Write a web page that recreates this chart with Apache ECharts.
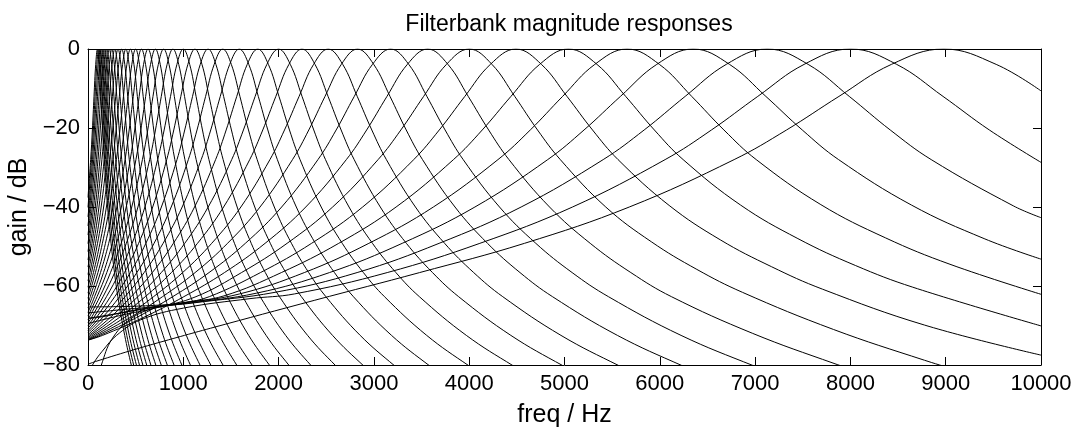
<!DOCTYPE html>
<html>
<head>
<meta charset="utf-8">
<title>Filterbank magnitude responses</title>
<script src="https://cdn.jsdelivr.net/npm/echarts@6/dist/echarts.min.js"></script>
<style>
  html, body { margin: 0; padding: 0; background: #fff; }
  #chart { width: 1080px; height: 429px; }
</style>
</head>
<body>
<div id="chart"></div>
<script>
// Magnitude response of each band of a sixth-octave gammatone filterbank,
// as [frequency in Hz, gain in dB] pairs, lowest band first.
const band01 = [[0,-37.6],[28,-28],[46,-20.5],[63,-12],[81,-3.9],[99.2,0],[117,-3.9],[135,-12],[153,-20.5],[171,-28],[206,-40],[242,-49.2],[278,-56.6],[313,-62.7],[385,-72.5],[456,-80.2],[492,-83.5]];
const band02 = [[0,-40.1],[37,-28],[56,-20.5],[74,-12],[93,-3.9],[111.4,0],[130,-3.9],[148,-12],[167,-20.5],[185,-28],[222,-40],[259,-49.2],[296,-56.6],[333,-62.7],[407,-72.5],[481,-80.2],[518,-83.5]];
const band03 = [[0,-42.5],[10,-40],[48,-28],[67,-20.5],[87,-12],[106,-3.9],[125,0],[144,-3.9],[164,-12],[183,-20.5],[202,-28],[241,-40],[279,-49.2],[318,-56.6],[356,-62.7],[433,-72.5],[510,-80.2],[549,-83.5]];
const band04 = [[0,-44.8],[20,-40],[60,-28],[80,-20.5],[100,-12],[120,-3.9],[140.3,0],[160,-3.9],[181,-12],[201,-20.5],[221,-28],[261,-40],[301,-49.2],[341,-56.6],[382,-62.7],[462,-72.5],[542,-80.2],[583,-83.5]];
const band05 = [[0,-47.1],[31.5,-40],[73.5,-28],[94.5,-20.5],[115.5,-12],[136.5,-3.9],[157.5,0],[178.5,-3.9],[199.5,-12],[220.5,-20.5],[241.5,-28],[283.5,-40],[325.5,-49.2],[367.5,-56.6],[409.5,-62.7],[493.5,-72.5],[577.5,-80.2],[619.5,-83.5]];
const band06 = [[0,-49.3],[45,-40],[89,-28],[111,-20.5],[133,-12],[155,-3.9],[177,0],[199,-3.9],[221,-12],[243,-20.5],[265,-28],[309,-40],[353,-49.2],[398,-56.6],[442,-62.7],[530,-72.5],[618,-80.2],[662,-83.5]];
const band07 = [[0,-51.3],[12,-49.2],[59,-40],[105,-28],[128,-20.5],[152,-12],[175,-3.9],[198,0],[221,-3.9],[244,-12],[268,-20.5],[291,-28],[337,-40],[384,-49.2],[430,-56.6],[476,-62.7],[569,-72.5],[662,-80.2],[708,-83.5]];
const band08 = [[0,-53.4],[27,-49.2],[76,-40],[125,-28],[149,-20.5],[174,-12],[198,-3.9],[223,0],[248,-3.9],[272,-12],[297,-20.5],[321,-28],[370,-40],[419,-49.2],[469,-56.6],[518,-62.7],[616,-72.5],[714,-80.2],[763,-83.5]];
const band09 = [[0,-55.2],[42,-49.2],[94,-40],[146,-28],[172,-20.5],[198,-12],[224,-3.9],[250,0],[276,-3.9],[302,-12],[328,-20.5],[354,-28],[406,-40],[458,-49.2],[511,-56.6],[563,-62.7],[667,-72.5],[771,-80.2],[823,-83.5]];
const band10 = [[0,-57.1],[59,-49.2],[115,-40],[170,-28],[198,-20.5],[226,-12],[253,-3.9],[281,0],[309,-3.9],[336,-12],[364,-20.5],[392,-28],[447,-40],[503,-49.2],[558,-56.6],[613,-62.7],[724,-72.5],[835,-80.2],[890,-83.5]];
const band11 = [[0,-58.7],[20,-56.6],[79,-49.2],[138,-40],[197,-28],[226,-20.5],[256,-12],[285,-3.9],[315,0],[345,-3.9],[374,-12],[404,-20.5],[433,-28],[492,-40],[551,-49.2],[611,-56.6],[670,-62.7],[788,-72.5],[906,-80.2],[965,-83.5]];
const band12 = [[0,-60.3],[37,-56.6],[100,-49.2],[164,-40],[227,-28],[259,-20.5],[291,-12],[322,-3.9],[354,0],[386,-3.9],[417,-12],[449,-20.5],[481,-28],[544,-40],[608,-49.2],[671,-56.6],[734,-62.7],[861,-72.5],[988,-80.2],[1051,-83.5]];
const band13 = [[0,-61.8],[57,-56.6],[125,-49.2],[193,-40],[261,-28],[295,-20.5],[329,-12],[363,-3.9],[397,0],[431,-3.9],[465,-12],[499,-20.5],[533,-28],[601,-40],[669,-49.2],[738,-56.6],[806,-62.7],[942,-72.5],[1078,-80.2],[1146,-83.5]];
const band14 = [[0,-63.1],[78,-56.6],[151,-49.2],[225,-40],[298,-28],[335,-20.5],[372,-12],[408,-3.9],[445,0],[482,-3.9],[518,-12],[555,-20.5],[592,-28],[665,-40],[739,-49.2],[812,-56.6],[885,-62.7],[1032,-72.5],[1179,-80.2],[1252,-83.5]];
const band15 = [[0,-64.4],[24,-62.7],[104,-56.6],[183,-49.2],[262,-40],[341,-28],[381,-20.5],[421,-12],[460,-3.9],[500,0],[540,-3.9],[579,-12],[619,-20.5],[659,-28],[738,-40],[817,-49.2],[897,-56.6],[976,-62.7],[1134,-72.5],[1293,-80.2],[1372,-83.5]];
const band16 = [[0,-65.5],[45,-62.7],[131,-56.6],[217,-49.2],[303,-40],[389,-28],[432,-20.5],[475,-12],[518,-3.9],[561,0],[604,-3.9],[647,-12],[690,-20.5],[733,-28],[819,-40],[905,-49.2],[991,-56.6],[1077,-62.7],[1249,-72.5],[1421,-80.2],[1507,-83.5]];
const band17 = [[0,-66.7],[69,-62.7],[163,-56.6],[256,-49.2],[350,-40],[443,-28],[490,-20.5],[537,-12],[583,-3.9],[630,0],[677,-3.9],[724,-12],[770,-20.5],[817,-28],[911,-40],[1004,-49.2],[1098,-56.6],[1191,-62.7],[1378,-72.5],[1565,-80.2],[1659,-83.5]];
const band18 = [[0,-67.6],[95,-62.7],[197,-56.6],[299,-49.2],[401,-40],[503,-28],[554,-20.5],[605,-12],[656,-3.9],[707,0],[758,-3.9],[809,-12],[860,-20.5],[911,-28],[1013,-40],[1115,-49.2],[1217,-56.6],[1319,-62.7],[1523,-72.5],[1727,-80.2],[1829,-83.5]];
const band19 = [[0,-68.5],[125,-62.7],[236,-56.6],[348,-49.2],[459,-40],[571,-28],[627,-20.5],[682,-12],[738,-3.9],[794,0],[850,-3.9],[906,-12],[961,-20.5],[1017,-28],[1129,-40],[1240,-49.2],[1352,-56.6],[1463,-62.7],[1686,-72.5],[1909,-80.2],[2021,-83.5]];
const band20 = [[0,-69.3],[36,-68],[158,-62.7],[280,-56.6],[402,-49.2],[524,-40],[647,-28],[708,-20.5],[769,-12],[830,-3.9],[891,0],[952,-3.9],[1013,-12],[1074,-20.5],[1135,-28],[1258,-40],[1380,-49.2],[1502,-56.6],[1624,-62.7],[1869,-72.5],[2113,-80.2],[2235,-83.5]];
const band21 = [[0,-70.1],[60,-68],[194,-62.7],[329,-56.6],[463,-49.2],[597,-40],[731,-28],[799,-20.5],[866,-12],[933,-3.9],[1000,0],[1067,-3.9],[1134,-12],[1201,-20.5],[1269,-28],[1403,-40],[1537,-49.2],[1672,-56.6],[1806,-62.7],[2074,-72.5],[2343,-80.2],[2477,-83.5]];
const band22 = [[0,-70.7],[88,-68],[235,-62.7],[383,-56.6],[531,-49.2],[679,-40],[826,-28],[900,-20.5],[974,-12],[1048,-3.9],[1122,0],[1196,-3.9],[1270,-12],[1344,-20.5],[1418,-28],[1565,-40],[1713,-49.2],[1861,-56.6],[2009,-62.7],[2304,-72.5],[2600,-80.2],[2748,-83.5]];
const band23 = [[0,-71.3],[118,-68],[281,-62.7],[444,-56.6],[607,-49.2],[770,-40],[934,-28],[1015,-20.5],[1097,-12],[1178,-3.9],[1260,0],[1342,-3.9],[1423,-12],[1505,-20.5],[1586,-28],[1750,-40],[1913,-49.2],[2076,-56.6],[2239,-62.7],[2566,-72.5],[2892,-80.2],[3055,-83.5]];
const band24 = [[0,-71.8],[152,-68],[332,-62.7],[513,-56.6],[693,-49.2],[873,-40],[1053,-28],[1144,-20.5],[1234,-12],[1324,-3.9],[1414,0],[1504,-3.9],[1594,-12],[1684,-20.5],[1775,-28],[1955,-40],[2135,-49.2],[2316,-56.6],[2496,-62.7],[2856,-72.5],[3217,-80.2],[3397,-83.5]];
const band25 = [[0,-72.3],[189,-68],[389,-62.7],[589,-56.6],[788,-49.2],[988,-40],[1188,-28],[1288,-20.5],[1388,-12],[1487,-3.9],[1587,0],[1687,-3.9],[1787,-12],[1887,-20.5],[1987,-28],[2186,-40],[2386,-49.2],[2586,-56.6],[2785,-62.7],[3185,-72.5],[3584,-80.2],[3784,-83.5]];
const band26 = [[0,-72.7],[232,-68],[453,-62.7],[675,-56.6],[896,-49.2],[1118,-40],[1339,-28],[1450,-20.5],[1561,-12],[1671,-3.9],[1782,0],[1893,-3.9],[2004,-12],[2114,-20.5],[2225,-28],[2447,-40],[2668,-49.2],[2890,-56.6],[3111,-62.7],[3554,-72.5],[3997,-80.2],[4219,-83.5]];
const band27 = [[0,-73.0],[30,-72.5],[277,-68],[523,-62.7],[769,-56.6],[1015,-49.2],[1261,-40],[1508,-28],[1631,-20.5],[1754,-12],[1877,-3.9],[2000,0],[2123,-3.9],[2246,-12],[2369,-20.5],[2492,-28],[2739,-40],[2985,-49.2],[3231,-56.6],[3477,-62.7],[3970,-72.5],[4462,-80.2],[4708,-83.5]];
const band28 = [[0,-73.3],[53,-72.5],[327,-68],[601,-62.7],[875,-56.6],[1149,-49.2],[1423,-40],[1697,-28],[1834,-20.5],[1971,-12],[2108,-3.9],[2245,0],[2382,-3.9],[2519,-12],[2656,-20.5],[2793,-28],[3067,-40],[3341,-49.2],[3615,-56.6],[3889,-62.7],[4437,-72.5],[4985,-80.2],[5259,-83.5]];
const band29 = [[0,-73.5],[77,-72.5],[382,-68],[688,-62.7],[993,-56.6],[1298,-49.2],[1604,-40],[1909,-28],[2062,-20.5],[2215,-12],[2367,-3.9],[2520,0],[2673,-3.9],[2825,-12],[2978,-20.5],[3131,-28],[3436,-40],[3742,-49.2],[4047,-56.6],[4352,-62.7],[4963,-72.5],[5574,-80.2],[5879,-83.5]];
const band30 = [[0,-73.6],[101,-72.5],[442,-68],[782,-62.7],[1124,-56.6],[1464,-49.2],[1805,-40],[2146,-28],[2317,-20.5],[2487,-12],[2658,-3.9],[2828,0],[2998,-3.9],[3169,-12],[3339,-20.5],[3510,-28],[3851,-40],[4192,-49.2],[4533,-56.6],[4874,-62.7],[5555,-72.5],[6237,-80.2],[6578,-83.5]];
const band31 = [[0,-73.7],[127,-72.5],[508,-68],[889,-62.7],[1270,-56.6],[1651,-49.2],[2032,-40],[2413,-28],[2604,-20.5],[2794,-12],[2985,-3.9],[3175,0],[3366,-3.9],[3556,-12],[3747,-20.5],[3937,-28],[4318,-40],[4699,-49.2],[5080,-56.6],[5461,-62.7],[6223,-72.5],[6985,-80.2],[7366,-83.5]];
const band32 = [[0,-73.7],[153,-72.5],[579,-68],[1006,-62.7],[1432,-56.6],[1858,-49.2],[2285,-40],[2711,-28],[2924,-20.5],[3137,-12],[3351,-3.9],[3564,0],[3777,-3.9],[3990,-12],[4204,-20.5],[4417,-28],[4843,-40],[5270,-49.2],[5696,-56.6],[6122,-62.7],[6975,-72],[7828,-79.6],[8254,-83]];
const band33 = [[0,-69.5],[350,-67.4],[700,-65.6],[1133,-62.7],[1611,-56.6],[2089,-49.2],[2567,-40],[3044,-28],[3283,-20.5],[3522,-12],[3761,-3.9],[4000,0],[4239,-3.9],[4478,-12],[4717,-20.5],[4956,-28],[5433,-40],[5911,-48.8],[6389,-55.8],[6867,-61.6],[7822,-71],[8778,-78.8],[9256,-82.3]];
const band34 = [[0,-68.2],[350,-66.8],[700,-65.4],[1000,-64.3],[1273,-62.7],[1810,-56.6],[2346,-49.2],[2882,-40],[3418,-28],[3686,-20.5],[3954,-12],[4222,-3.9],[4490,0],[4758,-3.9],[5026,-12],[5294,-20.5],[5562,-28],[6098,-39.6],[6634,-48.3],[7171,-55.1],[7707,-60.8],[8779,-69.9],[10000,-77.5]];
const band35 = [[0,-66.8],[350,-66.0],[700,-65.2],[1000,-64.2],[1426,-62.5],[2029,-56.6],[2631,-49.2],[3233,-40],[3835,-28],[4137,-20.5],[4438,-12],[4739,-3.9],[5040,0],[5341,-3.9],[5642,-12],[5943,-20.5],[6245,-28],[6847,-39.5],[7449,-48],[8052,-54.8],[8654,-60.3],[10000,-70.1]];
const band36 = [[0,-65.3],[350,-65.2],[700,-64.9],[1000,-64.3],[1592,-62.0],[2270,-56.6],[2947,-49.2],[3624,-40],[4302,-28],[4641,-20.5],[4980,-12],[5318,-3.9],[5657,0],[5996,-3.9],[6335,-12],[6673,-20.5],[7012,-28],[7690,-39.4],[8367,-47.8],[9045,-54.5],[10000,-62.1]];
const band37 = [[0,-68.2],[150,-67.8],[400,-66.5],[700,-65.3],[1000,-64.5],[1771,-61.8],[2534,-56.6],[3297,-49.2],[4060,-40],[4824,-28],[5205,-20.5],[5587,-12],[5968,-3.9],[6350,0],[6732,-3.9],[7113,-12],[7495,-20.5],[7876,-28],[8640,-39.5],[9403,-48],[10000,-53.2]];
const band38 = [[110,-83],[140,-80],[250,-73.5],[450,-68.3],[700,-65.6],[1100,-64.3],[1963,-61.6],[2824,-56.6],[3684,-49.2],[4545,-40],[5406,-28],[5836,-20.5],[6266,-12],[6697,-3.9],[7127,0],[7557,-3.9],[7988,-12],[8418,-20.5],[8848,-28],[9709,-39.7],[10000,-42.7]];
const band39 = [[30,-81],[59,-79.5],[150,-76.5],[300,-72.5],[549,-68.6],[1000,-65.6],[1700,-63.2],[2168,-62],[3140,-56.6],[4112,-49.2],[5084,-40],[6056,-28],[6542,-20.5],[7028,-12],[7514,-3.9],[8000,0],[8486,-3.9],[8972,-12],[9458,-20.5],[10000,-28.7]];
const band40 = [[0,-79.8],[94,-79],[500,-76],[968,-72.8],[1285,-70.7],[2380,-63.6],[3480,-56.6],[4580,-49.2],[5680,-40],[6780,-28],[7330,-20.5],[7880,-12],[8430,-3.9],[8980,0],[9530,-3.9],[10000,-10.6]];

const bands = [band01, band02, band03, band04, band05, band06, band07, band08, band09, band10,
               band11, band12, band13, band14, band15, band16, band17, band18, band19, band20,
               band21, band22, band23, band24, band25, band26, band27, band28, band29, band30,
               band31, band32, band33, band34, band35, band36, band37, band38, band39, band40];

// Axis ticks
const freqTicks = [0, 1000, 2000, 3000, 4000, 5000, 6000, 7000, 8000, 9000, 10000];
const gainTicks = [-80, -60, -40, -20, 0];

const FONT = '"Liberation Sans", Arial, Helvetica, sans-serif';
const INK = '#000';

const chart = echarts.init(document.getElementById('chart'), null, { renderer: 'canvas' });

const fmtGain = v => (v < 0 ? '\u2212' + Math.abs(v) : String(v));

const xCommon = {
  type: 'value',
  min: freqTicks[0],
  max: freqTicks[freqTicks.length - 1],
  interval: freqTicks[1] - freqTicks[0],
  splitLine: { show: false },
  axisLine: { show: true, onZero: false, lineStyle: { color: INK, width: 1 } },
  axisTick: { show: true, inside: true, length: 8, lineStyle: { color: INK, width: 1 } }
};
const yCommon = {
  type: 'value',
  min: gainTicks[0],
  max: gainTicks[gainTicks.length - 1],
  interval: gainTicks[1] - gainTicks[0],
  splitLine: { show: false },
  axisLine: { show: true, onZero: false, lineStyle: { color: INK, width: 1 } },
  axisTick: { show: true, inside: true, length: 8, lineStyle: { color: INK, width: 1 } }
};

chart.setOption({
  animation: false,
  backgroundColor: '#fff',
  title: {
    text: 'Filterbank magnitude responses',
    left: 564,
    textAlign: 'center',
    top: 8,
    textStyle: { fontFamily: FONT, fontSize: 23, fontWeight: 'normal', color: INK }
  },
  // fixed plot rectangle; names and labels are placed outside it by hand
  grid: { left: 88, right: 39, top: 49, bottom: 64, containLabel: false, outerBoundsMode: 'none' },
  xAxis: [
    Object.assign({}, xCommon, {
      position: 'bottom',
      name: 'freq / Hz',
      nameLocation: 'middle',
      nameGap: 38,
      nameTextStyle: { fontFamily: FONT, fontSize: 25, color: INK },
      axisLabel: {
        show: true, margin: 8, color: INK, fontFamily: FONT, fontSize: 22,
        formatter: v => (freqTicks.indexOf(v) >= 0 ? String(v) : '')
      }
    }),
    Object.assign({}, xCommon, { position: 'top', axisLabel: { show: false } })
  ],
  yAxis: [
    Object.assign({}, yCommon, {
      position: 'left',
      name: 'gain / dB',
      nameLocation: 'middle',
      nameRotate: 90,
      nameGap: 52,
      nameTextStyle: { fontFamily: FONT, fontSize: 25, color: INK },
      axisLabel: {
        show: true, margin: 8, color: INK, fontFamily: FONT, fontSize: 22,
        formatter: v => (gainTicks.indexOf(v) >= 0 ? fmtGain(v) : '')
      }
    }),
    Object.assign({}, yCommon, { position: 'right', axisLabel: { show: false } })
  ],
  series: bands.map((pts, i) => ({
    name: 'band ' + (i + 1),
    type: 'line',
    xAxisIndex: 0,
    yAxisIndex: 0,
    data: pts,
    showSymbol: false,
    symbol: 'none',
    smooth: 0.4,
    clip: true,
    silent: true,
    lineStyle: { color: INK, width: 1 },
    emphasis: { disabled: true }
  }))
});
</script>
</body>
</html>
